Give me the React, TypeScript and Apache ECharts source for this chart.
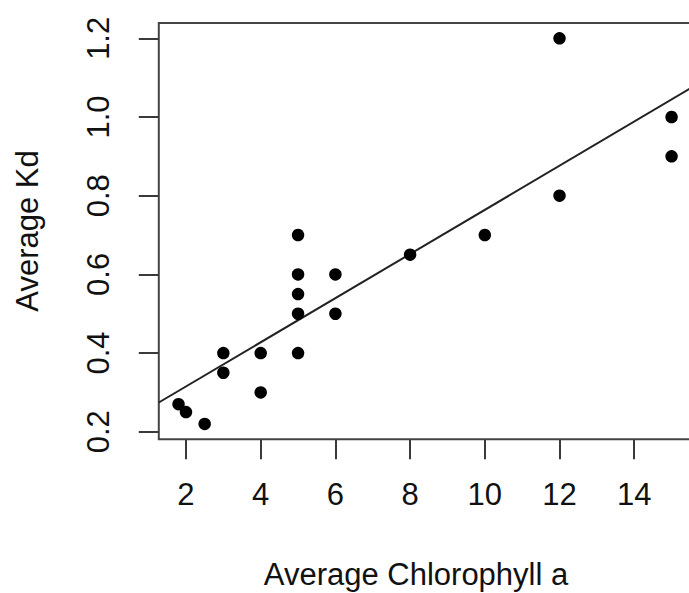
import React, { useEffect, useRef } from "react";
import * as echarts from "echarts";

// Data
const chlorophyll: number[] = [1.8, 2, 2.5, 3, 3, 4, 4, 5, 5, 5, 5, 5, 6, 6, 8, 10, 12, 12, 15, 15];
const kd: number[] = [0.27, 0.25, 0.22, 0.4, 0.35, 0.4, 0.3, 0.7, 0.6, 0.55, 0.5, 0.4, 0.6, 0.5, 0.65, 0.7, 1.2, 0.8, 1.0, 0.9];
const xTicks: number[] = [2, 4, 6, 8, 10, 12, 14];
const yTicks: number[] = [0.2, 0.4, 0.6, 0.8, 1.0, 1.2];
// fitted line
const fitIntercept = 0.203;
const fitSlope = 0.0561;

const xTitle = "Average Chlorophyll a";
const yTitle = "Average Kd";

export default function App() {
  const ref = useRef<HTMLDivElement>(null);
  useEffect(() => {
    if (!ref.current) return;
    const chart = echarts.init(ref.current, null, { renderer: "svg" });
    // R-style 4% axis extension
    const xMinD = Math.min(...chlorophyll), xMaxD = Math.max(...chlorophyll);
    const yMinD = Math.min(...kd), yMaxD = Math.max(...kd);
    const xMin = xMinD - 0.04 * (xMaxD - xMinD);
    const xMax = xMaxD + 0.04 * (xMaxD - xMinD);
    const yMin = yMinD - 0.04 * (yMaxD - yMinD);
    const yMax = yMaxD + 0.04 * (yMaxD - yMinD);
    const font = "Liberation Sans, Arial, Helvetica, sans-serif";
    const fs = 31;
    const tickColor = "#3a3a3a";
    chart.setOption({
      animation: false,
      backgroundColor: "#ffffff",
      grid: {
        left: 158.8,
        top: 22.9,
        width: 532.5,
        height: 416.4,
        show: true,
        borderColor: "#444",
        borderWidth: 2,
        backgroundColor: "transparent",
        containLabel: false,
        outerBoundsMode: "none",
      },
      xAxis: {
        type: "value",
        min: xMin,
        max: xMax,
        splitLine: { show: false },
        axisLine: { show: false },
        axisTick: {
          show: true,
          inside: false,
          length: 20,
          customValues: xTicks,
          lineStyle: { color: tickColor, width: 2 },
        },
        axisLabel: {
          customValues: xTicks,
          margin: 55,
          verticalAlign: "middle",
          fontSize: fs,
          fontFamily: font,
          color: "#111",
          formatter: (v: number) => String(v),
        },
      },
      yAxis: {
        type: "value",
        min: yMin,
        max: yMax,
        splitLine: { show: false },
        axisLine: { show: false },
        axisTick: {
          show: true,
          inside: false,
          length: 20,
          customValues: yTicks,
          lineStyle: { color: tickColor, width: 2 },
        },
        axisLabel: {
          customValues: yTicks,
          rotate: 90,
          margin: 60,
          align: "center",
          verticalAlign: "middle",
          fontSize: fs,
          fontFamily: font,
          color: "#111",
          formatter: (v: number) => v.toFixed(1),
        },
      },
      series: [
        {
          type: "scatter",
          data: chlorophyll.map((x, i) => [x, kd[i]]),
          symbol: "circle",
          symbolSize: 12.5,
          itemStyle: { color: "#000", opacity: 1 },
          silent: true,
          z: 3,
        },
        {
          type: "line",
          data: [
            [xMin, fitIntercept + fitSlope * xMin],
            [xMax, fitIntercept + fitSlope * xMax],
          ],
          symbol: "none",
          lineStyle: { color: "#222", width: 2 },
          silent: true,
          z: 2,
        },
      ],
      graphic: [
        {
          type: "text",
          x: 416,
          y: 574,
          style: {
            text: xTitle,
            fontSize: fs,
            fontFamily: font,
            fill: "#111",
            textAlign: "center",
            textVerticalAlign: "middle",
          },
        },
        {
          type: "text",
          x: 27,
          y: 231,
          rotation: Math.PI / 2,
          style: {
            text: yTitle,
            fontSize: fs,
            fontFamily: font,
            fill: "#111",
            textAlign: "center",
            textVerticalAlign: "middle",
          },
        },
      ],
    });
    return () => chart.dispose();
  }, []);
  return (
    <div style={{ position: "fixed", left: 0, top: 0, width: 689, height: 593, overflow: "hidden", background: "#fff" }}>
      <div ref={ref} style={{ width: 700, height: 593 }} />
    </div>
  );
}
